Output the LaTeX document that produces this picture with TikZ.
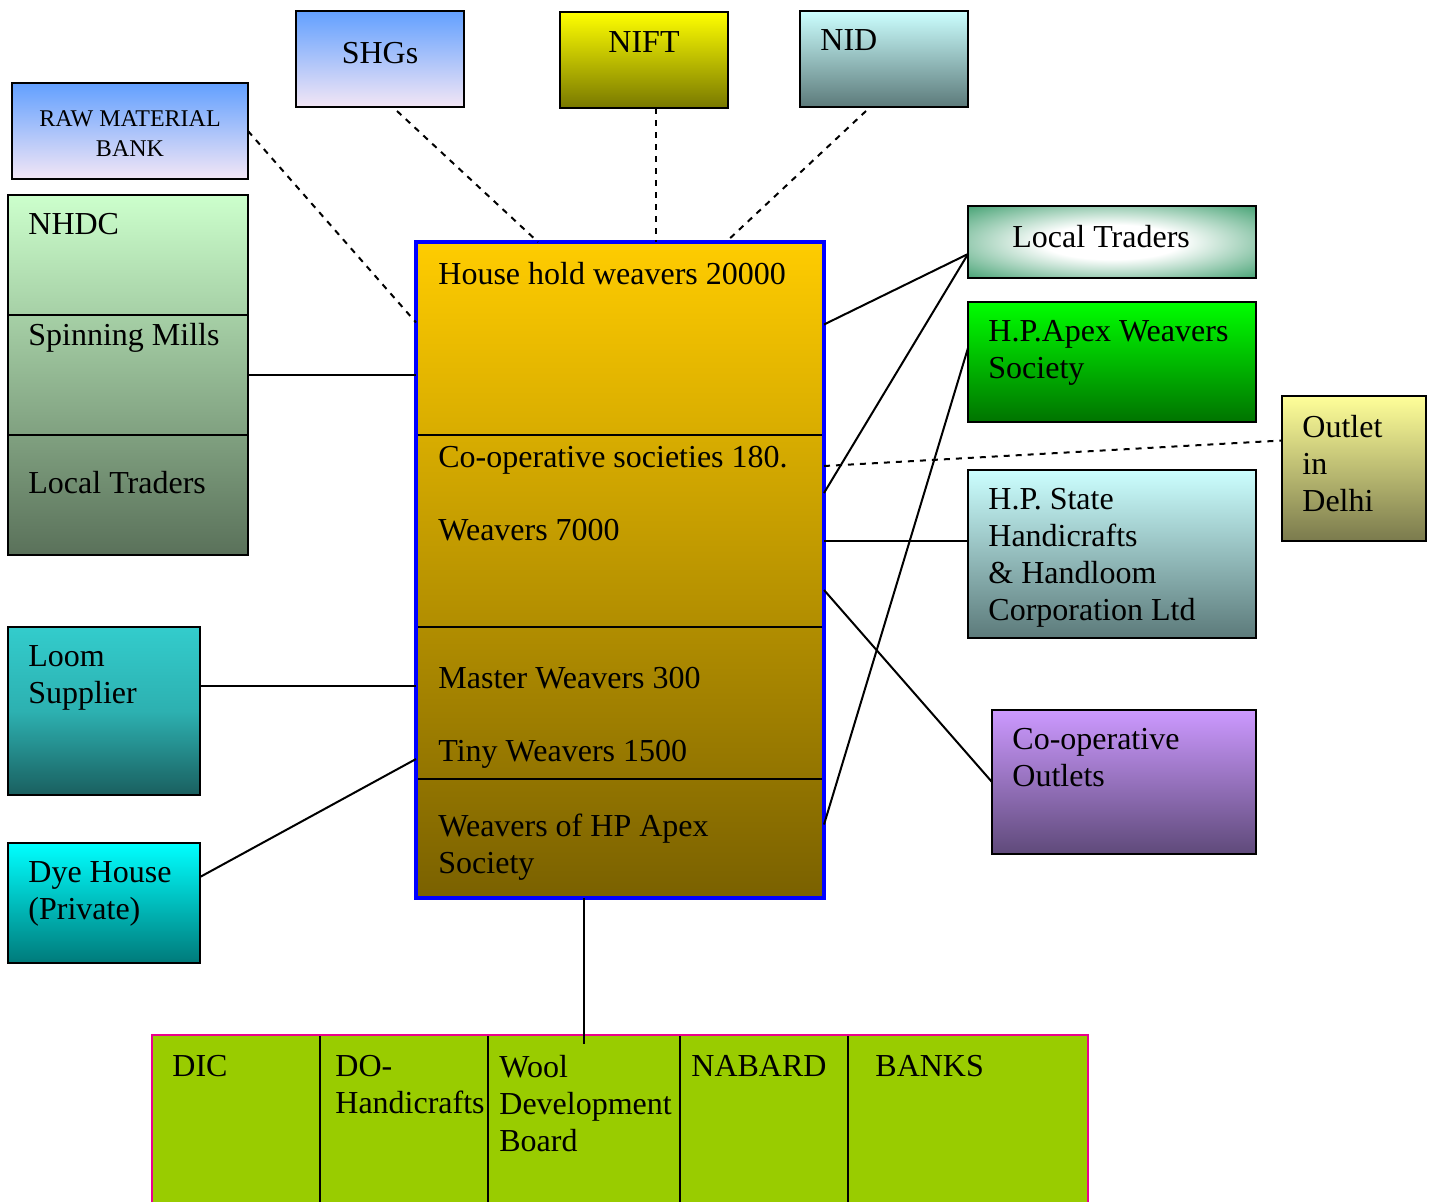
\documentclass[tikz,border=0pt]{standalone}
\usepackage{fontspec}
\setmainfont{Liberation Serif}
\usetikzlibrary{positioning,backgrounds}
\definecolor{rawtop}{HTML}{62A0FF}
\definecolor{rawbot}{HTML}{F3E6F5}
\definecolor{nifttop}{HTML}{FFFF00}
\definecolor{niftbot}{HTML}{787800}
\definecolor{nidtop}{HTML}{CCFFFF}
\definecolor{nidbot}{HTML}{5C7A7A}
\definecolor{stacktop}{HTML}{CCFFCC}
\definecolor{stackbot}{HTML}{5A715A}
\definecolor{ctrtop}{HTML}{FFCC00}
\definecolor{ctrbot}{HTML}{7A6100}
\definecolor{loomtop}{HTML}{33CCCC}
\definecolor{loombot}{HTML}{1A5F5F}
\definecolor{dyetop}{HTML}{00FFFF}
\definecolor{dyebot}{HTML}{007A7A}
\definecolor{tradegreen}{HTML}{339966}
\definecolor{apextop}{HTML}{00FF00}
\definecolor{apexbot}{HTML}{007300}
\definecolor{delhitop}{HTML}{FFFF99}
\definecolor{delhibot}{HTML}{7A7A4D}
\definecolor{outtop}{HTML}{CC99FF}
\definecolor{outbot}{HTML}{5F4A7A}
\definecolor{bankgreen}{HTML}{99CC00}
\newcommand{\bigfont}{\fontsize{16}{18.5}\selectfont}
\newcommand{\rowfont}{\fontsize{16}{18.5}\selectfont}
\pgfdeclareradialshading{traders}{\pgfpoint{0bp}{0bp}}{color(0bp)=(white); color(12bp)=(white); color(38bp)=(tradegreen); color(71bp)=(tradegreen)}
\tikzset{
  box/.style={draw, line width=1.2pt, rectangle, outer sep=0pt, inner sep=0pt, anchor=north west},
  part/.style={draw, line width=1pt, rectangle, outer sep=0pt, inner sep=0pt, minimum width=204pt},
  txt/.style={inner sep=0pt, align=left, font=\bigfont},
  link/.style={line width=1pt},
  dlink/.style={line width=1pt, dashed}
}
\begin{document}
\begin{tikzpicture}[x=0.5pt,y=-0.5pt]
\useasboundingbox (0,0) rectangle (1435,1201);

\node[box, minimum width=118pt, minimum height=48pt, top color=rawtop, bottom color=rawbot] (raw) at (12,83) {};
\node[box, minimum width=84pt, minimum height=48pt, top color=rawtop, bottom color=rawbot] (shg) at (296,11) {};
\node[box, minimum width=84pt, minimum height=48pt, top color=nifttop, bottom color=niftbot] (nift) at (560,12) {};
\node[box, minimum width=84pt, minimum height=48pt, top color=nidtop, bottom color=nidbot] (nid) at (800,11) {};
\node[txt, align=center, font=\fontsize{12}{15}\selectfont, below=13.8pt of raw.north] {RAW MATERIAL\\BANK};
\node[txt, below=15.5pt of shg.north] {SHGs};
\node[txt, below=9.5pt of nift.north] {NIFT};
\node[txt, below right=9pt and 10pt of nid.north west] {NID};

\node[box, minimum width=120pt, minimum height=60pt] (nhdc) at (8,195) {};
\node[box, minimum width=120pt, minimum height=60pt, below=0pt of nhdc] (spin) {};
\node[box, minimum width=120pt, minimum height=60pt, below=0pt of spin] (ltl) {};
\begin{scope}[on background layer]
\shade[top color=stacktop, bottom color=stackbot] (nhdc.north west) rectangle (ltl.south east);
\end{scope}
\node[txt, below right=9pt and 10pt of nhdc.north west] {NHDC};
\node[txt, below right=4pt and 10pt of spin.north west] {Spinning Mills};
\node[txt, below right=18pt and 10pt of ltl.north west] {Local Traders};

\node[part, anchor=north west, minimum height=96.5pt] (hh) at (416,242) {};
\node[part, minimum height=96pt, below=0pt of hh] (coop) {};
\node[part, minimum height=76pt, below=0pt of coop] (master) {};
\node[part, minimum height=59.5pt, below=0pt of master] (apex) {};
\begin{scope}[on background layer]
\shade[top color=ctrtop, bottom color=ctrbot] (hh.north west) rectangle (apex.south east);
\end{scope}
\draw[blue, line width=2pt] (hh.north west) rectangle (apex.south east);
\node[txt, below right=10pt and 11pt of hh.north west] {House hold weavers 20000};
\node[txt, below right=5.5pt and 11pt of coop.north west] {Co-operative societies 180.\\[18pt]Weavers 7000};
\node[txt, below right=20pt and 11pt of master.north west] {Master Weavers 300\\[18pt]Tiny Weavers 1500};
\node[txt, below right=17.5pt and 11pt of apex.north west] {Weavers of HP Apex\\Society};

\node[box, minimum width=96pt, minimum height=84pt, top color=loomtop, bottom color=loombot, middle color=loomtop!75!loombot] (loom) at (8,627) {};
\node[box, minimum width=96pt, minimum height=60pt, top color=dyetop, bottom color=dyebot] (dye) at (8,843) {};
\node[txt, below right=9pt and 10pt of loom.north west] {Loom\\Supplier};
\node[txt, below right=9pt and 10pt of dye.north west] {Dye House\\(Private)};

\node[box, minimum width=144pt, minimum height=36pt, shading=traders] (ltr) at (968,206) {};
\node[box, minimum width=144pt, minimum height=60pt, top color=apextop, bottom color=apexbot] (hpapex) at (968,302) {};
\node[box, minimum width=72pt, minimum height=72.5pt, top color=delhitop, bottom color=delhibot] (delhi) at (1282,396) {};
\node[box, minimum width=144pt, minimum height=84pt, top color=nidtop, bottom color=nidbot] (hps) at (968,470) {};
\node[box, minimum width=132pt, minimum height=72pt, top color=outtop, bottom color=outbot] (coopout) at (992,710) {};
\node[txt, below right=9.5pt and 22pt of ltr.north west] {Local Traders};
\node[txt, below right=9pt and 10pt of hpapex.north west] {H.P.Apex Weavers\\Society};
\node[txt, below right=9.5pt and 10pt of delhi.north west] {Outlet\\in\\Delhi};
\node[txt, below right=9pt and 10pt of hps.north west] {H.P. State\\Handicrafts\\\& Handloom\\Corporation Ltd};
\node[txt, below right=9pt and 10pt of coopout.north west] {Co-operative\\Outlets};

\node[box, line width=1pt, fill=bankgreen, minimum width=84pt, minimum height=87.5pt] (dic) at (152,1035) {};
\node[box, line width=1pt, fill=bankgreen, minimum width=84pt, minimum height=87.5pt, right=0pt of dic] (dohc) {};
\node[box, line width=1pt, fill=bankgreen, minimum width=96pt, minimum height=87.5pt, right=0pt of dohc] (wdb) {};
\node[box, line width=1pt, fill=bankgreen, minimum width=84pt, minimum height=87.5pt, right=0pt of wdb] (nabard) {};
\node[box, line width=1pt, fill=bankgreen, minimum width=120pt, minimum height=87.5pt, right=0pt of nabard] (banks) {};
\draw[magenta, line width=1.2pt] (dic.south west) |- (banks.north east) -- (banks.south east);
\node[txt, font=\rowfont, below right=10pt and 10pt of dic.north west] {DIC};
\node[txt, font=\rowfont, below right=10pt and 7.5pt of dohc.north west] {DO-\\Handicrafts};
\node[txt, font=\rowfont, below right=10pt and 5.5pt of wdb.north west] {Wool\\Development\\Board};
\node[txt, font=\rowfont, below right=10pt and 5.5pt of nabard.north west] {NABARD};
\node[txt, font=\rowfont, below right=10pt and 13.5pt of banks.north west] {BANKS};

\draw[dlink] (raw.east) -- ([yshift=8pt]hh.west);
\draw[dlink] ([xshift=8.5pt,yshift=-2pt]shg.south) -- ([xshift=-41pt]hh.north);
\draw[dlink] ([xshift=6pt]nift.south) -- ([xshift=6pt]nift.south |- hh.north);
\draw[dlink] ([xshift=-9pt,yshift=-2pt]nid.south) -- ([xshift=53pt]hh.north);
\draw[link] (spin.east) -- (spin.east -| hh.west);
\draw[link] ([yshift=12.5pt]loom.east) -- ([yshift=12.5pt]loom.east -| master.west);
\draw[link] ([yshift=13pt]dye.east) -- ([yshift=-28pt]master.west);
\draw[link] ([yshift=7pt]hh.east) -- ([yshift=-6pt]ltr.west);
\draw[link] ([yshift=19pt]coop.east) -- ([yshift=-6pt]ltr.west);
\draw[dlink] ([yshift=32.5pt]coop.east) -- ([yshift=14pt]delhi.west);
\draw[link] ([yshift=-5pt]coop.east) -- ([yshift=-5pt]coop.east -| hps.west);
\draw[link] ([yshift=-29.5pt]coop.east) -- (coopout.west);
\draw[link] ([yshift=7pt]apex.east) -- ([yshift=7pt]hpapex.west);
\draw[link] ([xshift=-18pt]apex.south) -- ([yshift=-4.5pt]wdb.north);
\end{tikzpicture}
\end{document}
